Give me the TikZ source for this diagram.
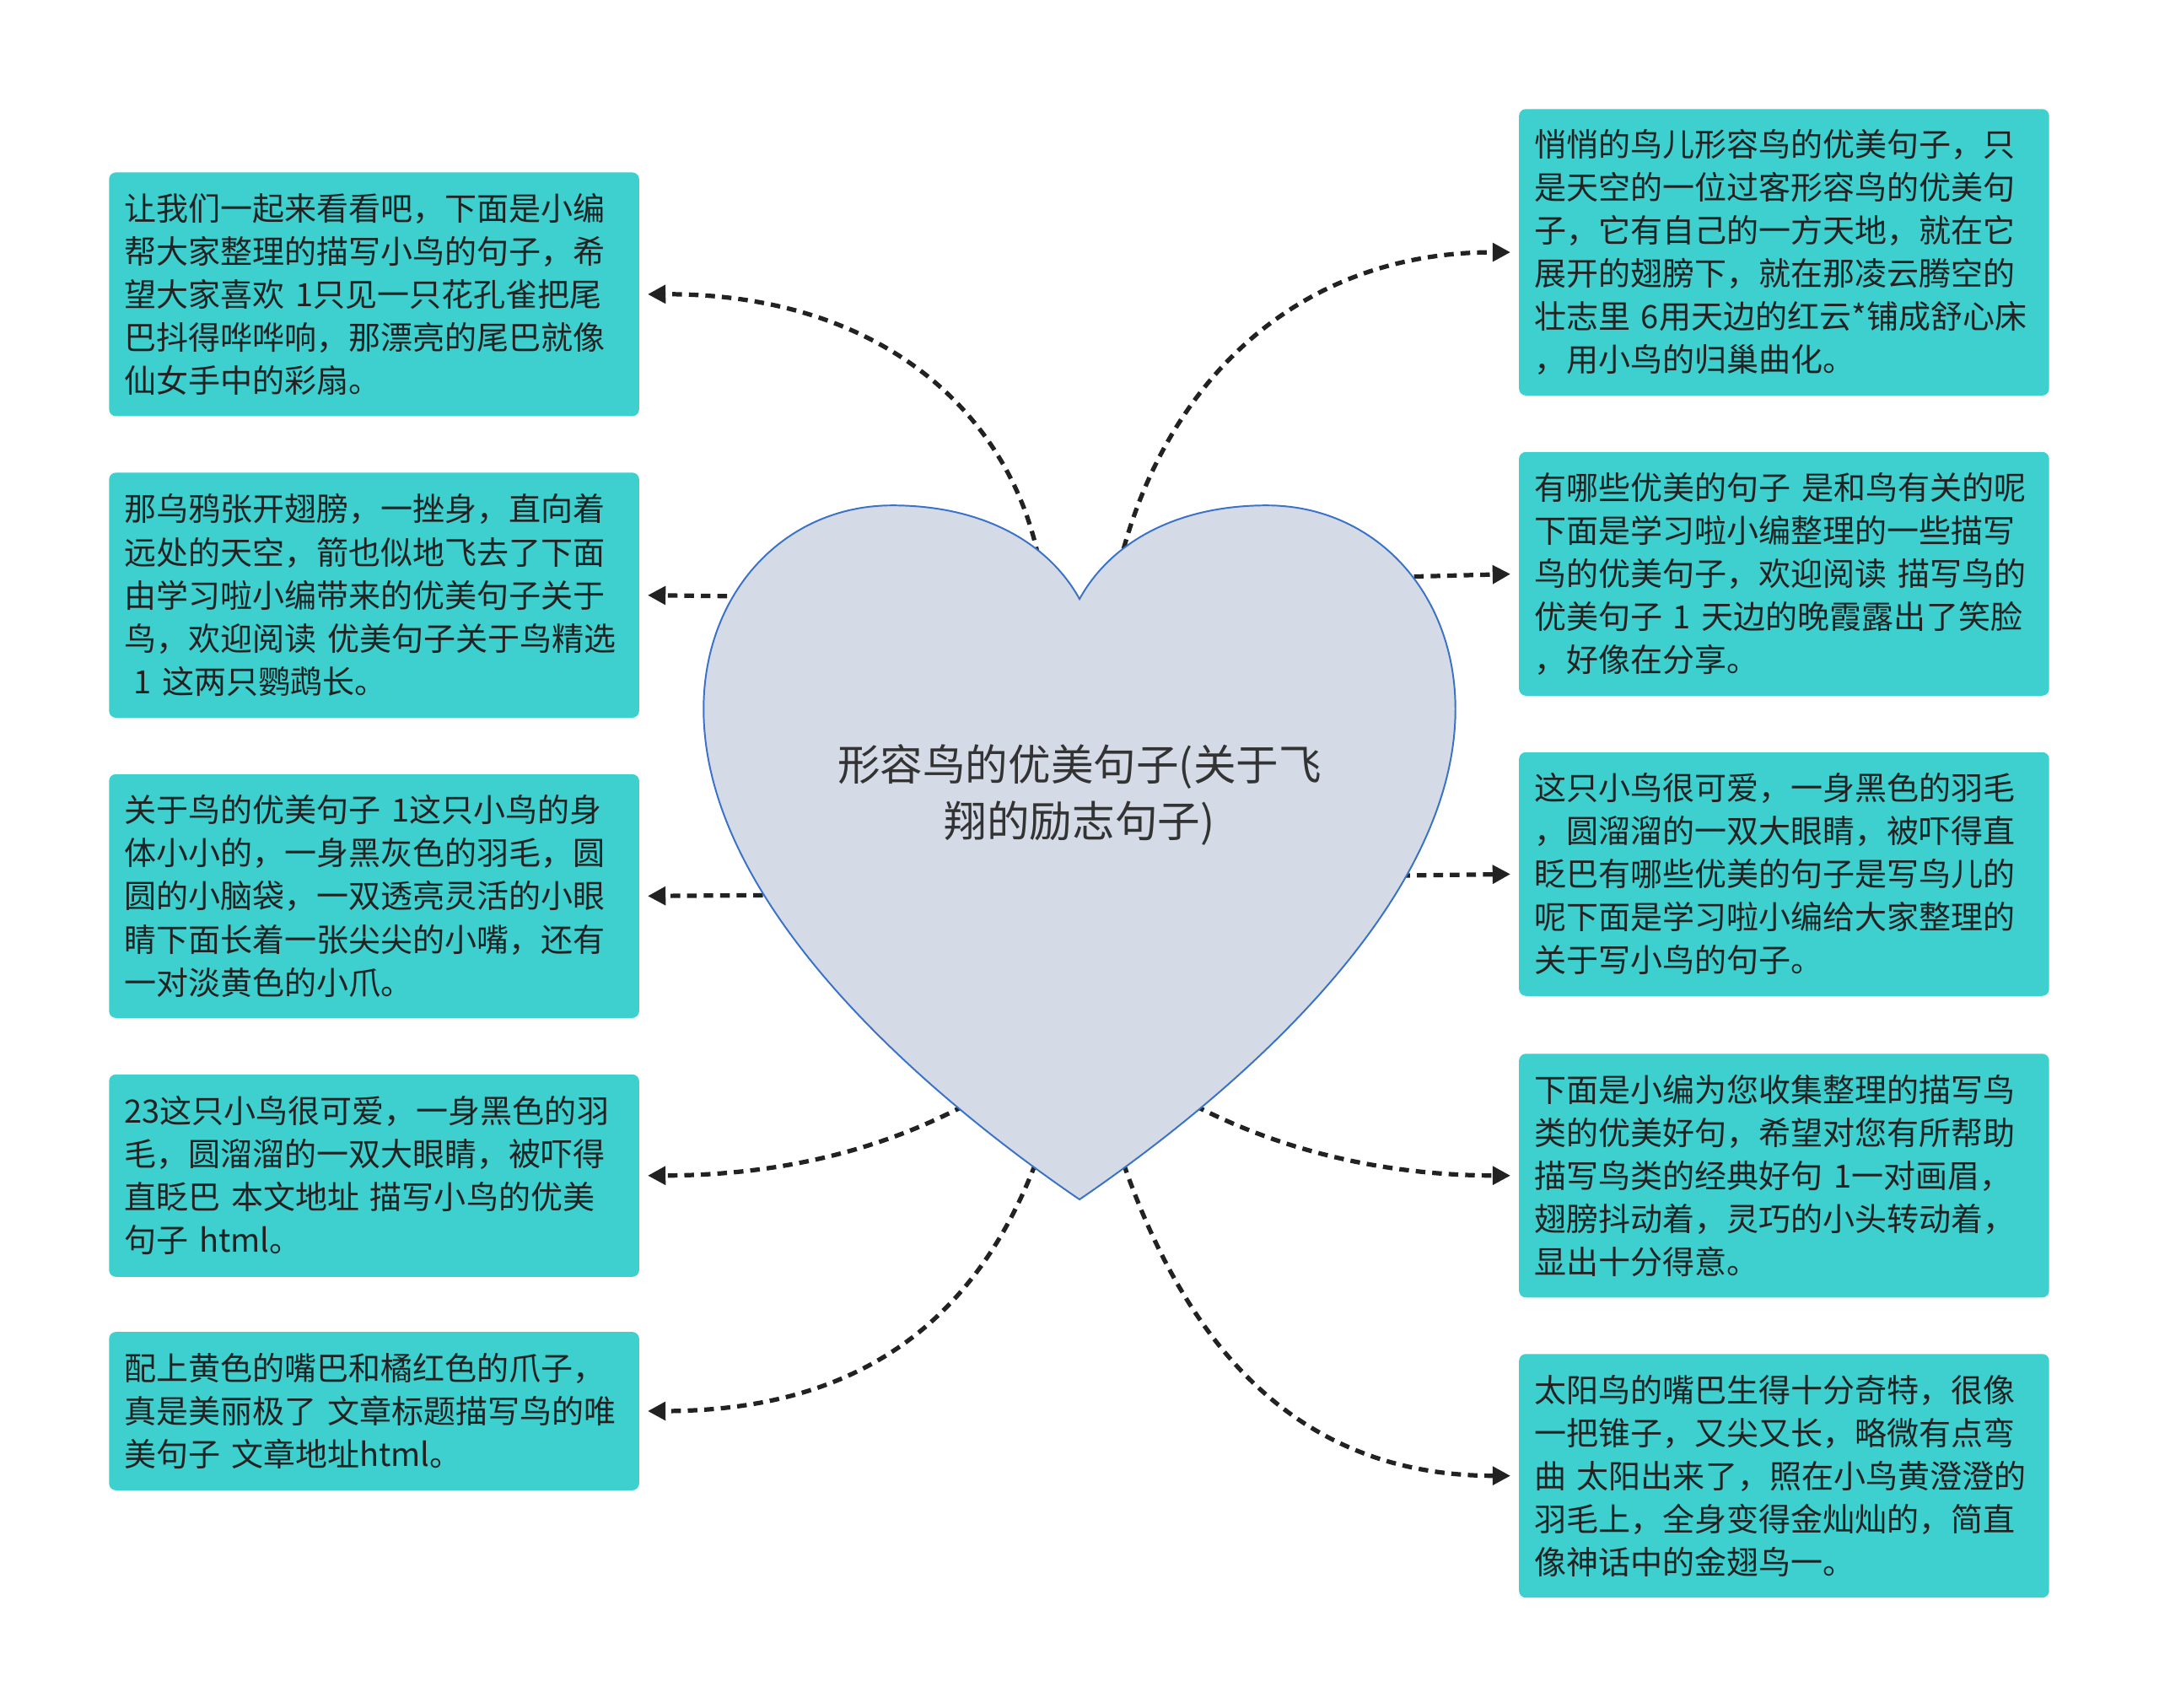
\documentclass[tikz,border=0pt]{standalone}
\usepackage{fontspec}
\setmainfont{Noto Sans CJK SC}
\usetikzlibrary{arrows.meta}
\definecolor{boxfill}{HTML}{3ECFCF}
\definecolor{boxtext}{HTML}{222222}
\definecolor{heartfill}{HTML}{D4DBE7}
\definecolor{heartline}{HTML}{3A72C8}
\definecolor{linkcol}{HTML}{222222}
\definecolor{maintext}{HTML}{333333}
\begin{document}
\begin{tikzpicture}[x=1pt,y=-1pt,
  leaf/.style={fill=boxfill, rounded corners=5pt, text=boxtext,
    font=\fontsize{23.3}{31.3}\selectfont, text width=363pt,
    inner xsep=11pt, inner ysep=0pt, align=left, anchor=north west,
    minimum width=385pt},
  link/.style={draw=linkcol, line width=3.2pt, dash pattern=on 7pt off 5pt,
    -{Triangle[length=13pt,width=13pt]}, shorten >=6pt},
  heartshape/.style={fill=heartfill, draw=heartline, line width=1.2pt},
  centertext/.style={text=maintext, font=\fontsize{31}{41}\selectfont, align=center}
]
\fill[white] (0,0) rectangle (1568,1240);
\useasboundingbox (0,0) rectangle (1568,1240);

% left boxes
\node[leaf, minimum height=177pt] (l1) at (79,125) {让我们一起来看看吧，下面是小编\\帮大家整理的描写小鸟的句子，希\\望大家喜欢~1只见一只花孔雀把尾\\巴抖得哗哗响，那漂亮的尾巴就像\\仙女手中的彩扇。};
\node[leaf, minimum height=178pt] (l2) at (79,343) {那乌鸦张开翅膀，一挫身，直向着\\远处的天空，箭也似地飞去了下面\\由学习啦小编带来的优美句子关于\\鸟，欢迎阅读~优美句子关于鸟精选\\\hspace*{7pt}1~这两只鹦鹉长。};
\node[leaf, minimum height=177pt] (l3) at (79,562) {关于鸟的优美句子~1这只小鸟的身\\体小小的，一身黑灰色的羽毛，圆\\圆的小脑袋，一双透亮灵活的小眼\\睛下面长着一张尖尖的小嘴，还有\\一对淡黄色的小爪。};
\node[leaf, minimum height=147pt] (l4) at (79,780) {23这只小鸟很可爱，一身黑色的羽\\毛，圆溜溜的一双大眼睛，被吓得\\直眨巴~本文地址~描写小鸟的优美\\句子~html。};
\node[leaf, minimum height=115pt] (l5) at (79,967) {配上黄色的嘴巴和橘红色的爪子，\\真是美丽极了~文章标题描写鸟的唯\\美句子~文章地址html。};

% right boxes
\node[leaf, minimum height=208pt] (r1) at (1103,79) {悄悄的鸟儿形容鸟的优美句子，只\\是天空的一位过客形容鸟的优美句\\子，它有自己的一方天地，就在它\\展开的翅膀下，就在那凌云腾空的\\壮志里~6用天边的红云*铺成舒心床\\，用小鸟的归巢曲化。};
\node[leaf, minimum height=177pt] (r2) at (1103,328) {有哪些优美的句子~是和鸟有关的呢\\下面是学习啦小编整理的一些描写\\鸟的优美句子，欢迎阅读~描写鸟的\\优美句子~1~天边的晚霞露出了笑脸\\，好像在分享。};
\node[leaf, minimum height=177pt] (r3) at (1103,546) {这只小鸟很可爱，一身黑色的羽毛\\，圆溜溜的一双大眼睛，被吓得直\\眨巴有哪些优美的句子是写鸟儿的\\呢下面是学习啦小编给大家整理的\\关于写小鸟的句子。};
\node[leaf, minimum height=177pt] (r4) at (1103,765) {下面是小编为您收集整理的描写鸟\\类的优美好句，希望对您有所帮助\\描写鸟类的经典好句~1一对画眉，\\翅膀抖动着，灵巧的小头转动着，\\显出十分得意。};
\node[leaf, minimum height=177pt] (r5) at (1103,983) {太阳鸟的嘴巴生得十分奇特，很像\\一把锥子，又尖又长，略微有点弯\\曲~太阳出来了，照在小鸟黄澄澄的\\羽毛上，全身变得金灿灿的，简直\\像神话中的金翅鸟一。};

% connector start points (inside the heart)
\coordinate (s1) at (754,404);
\coordinate (s2) at (540,433);
\coordinate (s3) at (566,650);
\coordinate (s4) at (700,803);
\coordinate (s5) at (752,845);
\coordinate (t1) at (813,410);
\coordinate (t2) at (1015,419);
\coordinate (t3) at (1005,636);
\coordinate (t4) at (868,803);
\coordinate (t5) at (816,845);

\draw[link] (s1) .. controls (732,300) and (640,213) .. (l1.east);
\draw[link] (s2) -- (l2.east);
\draw[link] (s3) -- (l3.east);
\draw[link] (s4) .. controls (620,845) and (540,853.5) .. (l4.east);
\draw[link] (s5) .. controls (700,980) and (600,1024.5) .. (l5.east);
\draw[link] (t1) .. controls (845,280) and (940,183) .. (r1.west);
\draw[link] (t2) -- (r2.west);
\draw[link] (t3) -- (r3.west);
\draw[link] (t4) .. controls (950,845) and (1030,853.5) .. (r4.west);
\draw[link] (t5) .. controls (870,1000) and (960,1071.5) .. (r5.west);

% heart
\draw[heartshape] (784,435)
  .. controls (762,395) and (715,367) .. (648,367)
  .. controls (570,367) and (511,430) .. (511,515)
  .. controls (511,660) and (680,800) .. (784,871)
  .. controls (888,800) and (1057,660) .. (1057,515)
  .. controls (1057,430) and (998,367) .. (920,367)
  .. controls (853,367) and (806,395) .. (784,435) -- cycle;

\node[centertext] (c) at (784,577) {形容鸟的优美句子(关于飞\\翔的励志句子)};
\end{tikzpicture}
\end{document}
